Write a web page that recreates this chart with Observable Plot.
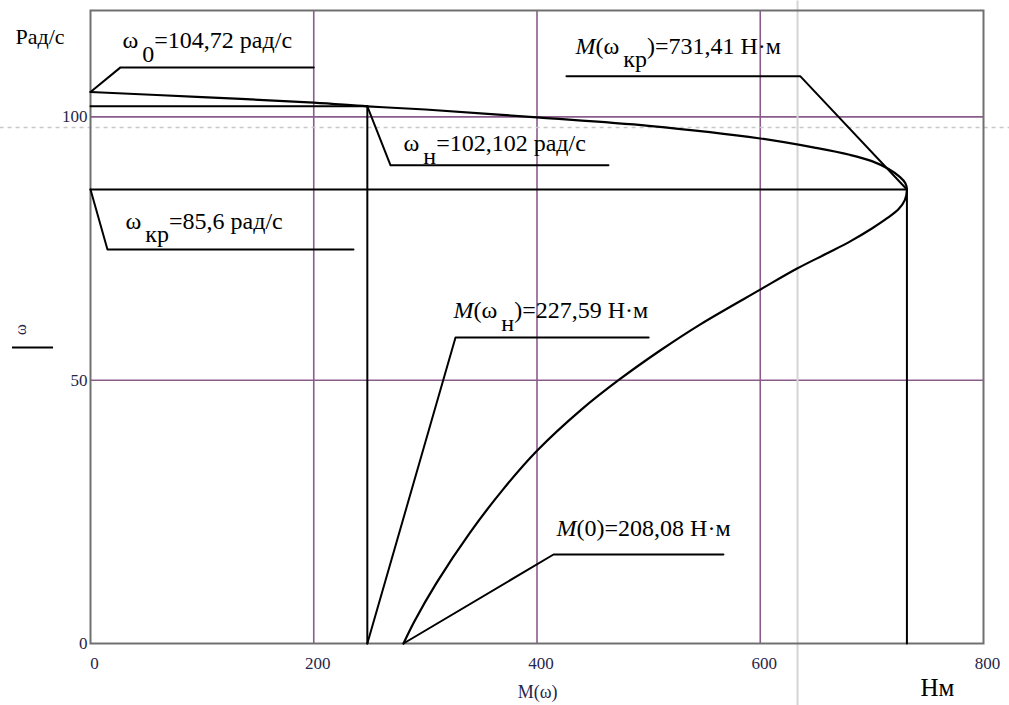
<!DOCTYPE html>
<html><head><meta charset="utf-8">
<script src="https://cdn.jsdelivr.net/npm/d3@7"></script>
<script src="https://cdn.jsdelivr.net/npm/@observablehq/plot@0.6"></script>
<style>
body{margin:0;background:#fff}
svg{display:block}
#chart svg, #chart svg text, #chart svg tspan{font-family:'Liberation Serif', serif !important;}
</style>
</head><body><div id="chart"></div><script>
// Mechanical characteristic: torque M (Н·м) vs angular speed ω (рад/с)
const upperBranch = [
  [0,104.72],[100,103.75],[200,102.7],[248,102.0],[300,101.4],[400,99.9],[500,98.3],
  [600,95.9],[650,94.1],[680,92.8],[700,91.6],[715,90.1],[725,88.6],[730,87.4],[731.4,86.2]
];
const lowerBranch = [
  [729.5,84.2],[724,82.5],[714,80.8],[700,78.8],[681,76.4],[660,74.1],[633,71.2],[600,67.2],
  [546,60.56],[510,55.59],[473,50.0],[440,44.46],[400,36.6],[370,29.37],[340,21.06],[310,11.52],
  [290,4.14],[280.4,0]
];
const xTicks = [0,200,400,600,800];
const yTicks = [0,50,100];
const xGrid = [200,400,600];
const yGrid = [50,100];

// characteristic points
const omega0 = 104.72, omegaN = 102.0, omegaKr = 86.2;
const mN = 248, mKr = 731.4, mStart = 280.4;

// reference lines (drop lines to axes)
const refLines = [
  {id:"hN", pts:[[0,omegaN],[mN,omegaN]]},
  {id:"vN", pts:[[mN,0],[mN,omegaN]]},
  {id:"hKr", pts:[[0,omegaKr],[mKr,omegaKr]]},
  {id:"vKr", pts:[[mKr,0],[mKr,omegaKr]]}
];
// leader lines for annotations
const leaders = [
  {id:"w0", pts:[[0,omega0],[26.9,109.4],[200,109.4]]},
  {id:"wN", pts:[[mN,omegaN],[268.8,90.8],[464,90.8]]},
  {id:"wKr", pts:[[0,omegaKr],[15.2,74.8],[235.6,74.8]]},
  {id:"MKr", pts:[[mKr,omegaKr],[636,107.7],[426.4,107.7]]},
  {id:"MN", pts:[[mN,0],[327,58.1],[500,58.1]]},
  {id:"M0", pts:[[mStart,0],[414.8,16.9],[567,16.9]]}
];
// annotation labels: parts [text, style]
const labels = [
  {M:28.7, w:113.0, parts:[["ω",""],["0","sub"],["=104,72 рад/с",""]]},
  {M:280.4, w:93.6, parts:[["ω",""],["н","sub"],["=102,102 рад/с",""]]},
  {M:31.4, w:78.8, parts:[["ω",""],["кр","sub"],["=85,6 рад/с",""]]},
  {M:434.5, w:112.0, parts:[["M","it"],["(ω",""],["кр","sub"],[")=731,41 Н·м",""]]},
  {M:325.2, w:61.9, parts:[["M","it"],["(ω",""],["н","sub"],[")=227,59 Н·м",""]]},
  {M:417.5, w:20.5, parts:[["M","it"],["(0)=208,08 Н·м",""]]}
];
// cursor trace lines (light gray)
const traceM = 633.4, traceW = 98.0;

const curve = [...upperBranch, ...lowerBranch].map(([M,w]) => ({M, w}));
const toRows = arr => arr.flatMap(d => d.pts.map(([M,w]) => ({id:d.id, M, w})));

const serif = "'Liberation Serif', serif";
const purple = "#8a5c8c";

const chart = Plot.plot({
  width: 1009, height: 705,
  marginLeft: 90, marginRight: 26, marginTop: 10, marginBottom: 62,
  x: {domain:[0,800]},
  y: {domain:[0,120.2]},
  style: {fontFamily: serif, background: "#fff"},
  marks: [
    Plot.ruleX(xGrid, {stroke: purple, strokeWidth: 1.6}),
    Plot.ruleY(yGrid, {stroke: purple, strokeWidth: 1.6}),
    Plot.ruleY([traceW], {x1: -81, x2: 825, stroke: "#c8c8c8", strokeWidth: 1.5, strokeDasharray: "4,4"}),
    Plot.ruleX([traceM], {y1: -12, y2: 122, stroke: "#d4d4d4", strokeWidth: 2}),
    Plot.frame({stroke: "#707070", strokeWidth: 2}),
    Plot.axisX(xTicks, {tickSize: 0, tickPadding: 13, dx: 4, fontSize: 17, fontFamily: serif, fill: "#26264a", label: null}),
    Plot.axisY(yTicks, {tickSize: 0, tickPadding: 3, fontSize: 17, fontFamily: serif, fill: "#26264a", label: null}),
    Plot.line(toRows(refLines), {x:"M", y:"w", z:"id", stroke:"#000", strokeWidth: 2}),
    Plot.line(toRows(leaders), {x:"M", y:"w", z:"id", stroke:"#000", strokeWidth: 2}),
    Plot.line(curve, {x:"M", y:"w", stroke:"#000", strokeWidth: 2.2, curve:"catmull-rom"}),
    Plot.text(labels, {x:"M", y:"w", text: d => d.parts.map(p => p[0]).join(""), textAnchor:"start", lineAnchor:"bottom", fontSize: 24, fontFamily: serif, fill:"#000", className:"rich"}),
    Plot.text(["Рад/с"], {x: -67.2, y: 113.9, textAnchor:"start", lineAnchor:"bottom", fontSize: 22, fontFamily: serif, fill:"#000"}),
    Plot.text(["Нм"], {x: 743.6, y: -9.9, textAnchor:"start", lineAnchor:"bottom", fontSize: 25, fontFamily: serif, fill:"#000"}),
    Plot.text(["M(ω)"], {x: 400.6, y: -10.4, textAnchor:"middle", lineAnchor:"bottom", fontSize: 18, fontFamily: serif, fill:"#26264a"}),
    Plot.text(["ω"], {x: -62.7, y: 59.6, rotate: -90, textAnchor:"middle", lineAnchor:"middle", fontSize: 17, fontFamily: serif, fill:"#26264a"}),
    Plot.ruleY([56.2], {x1: -69.9, x2: -33.1, stroke:"#000", strokeWidth: 2})
  ]
});
document.getElementById("chart").appendChild(chart);

// rich text: subscripts and italics
d3.select(chart).selectAll("g.rich text").each(function(_, i) {
  const lab = labels[i];
  const t = d3.select(this);
  t.text(null);
  let inSub = false;
  lab.parts.forEach(([s, st]) => {
    const sp = t.append("tspan").text(s);
    if (st === "sub") { sp.attr("dy", "0.56em").attr("dx", "4"); inSub = true; }
    else if (inSub) { sp.attr("dy", "-0.56em"); inSub = false; }
    if (st === "it") sp.attr("font-style", "italic");
  });
});
</script></body></html>
